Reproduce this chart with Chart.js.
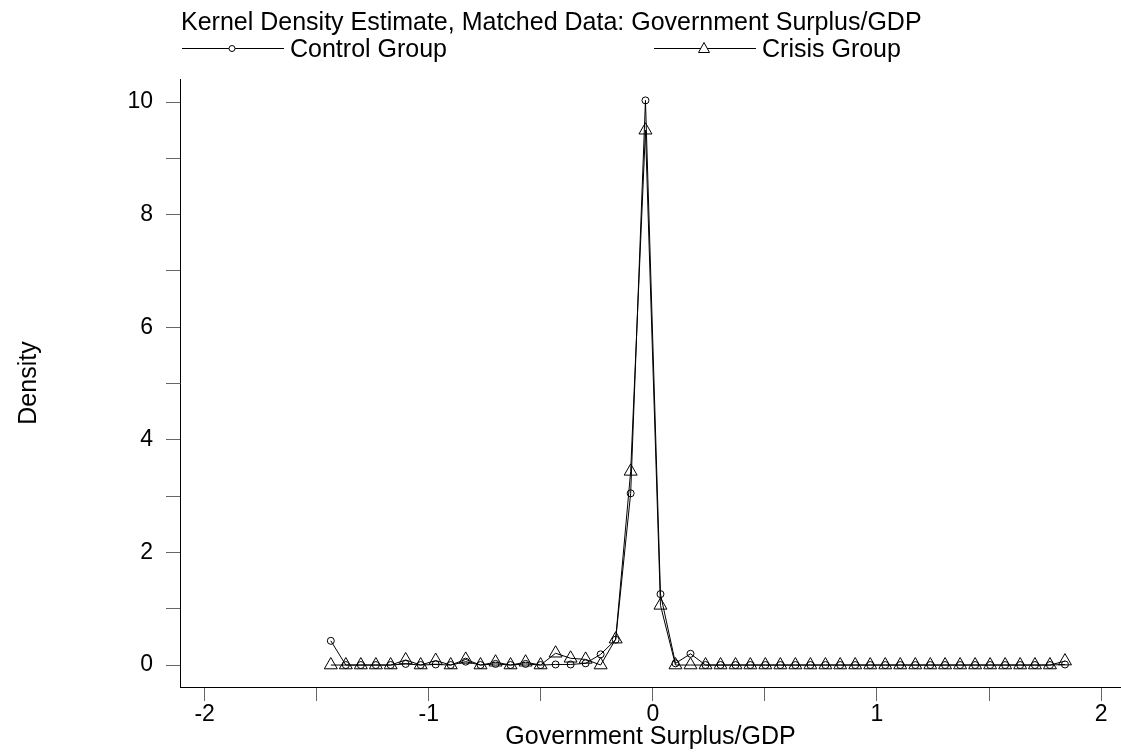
<!DOCTYPE html>
<html lang="en">
<head>
    <meta charset="UTF-8">
    <title>Kernel Density Estimate, Matched Data: Government Surplus/GDP</title>
    <style>
        body { margin: 0; background: #fff; overflow: hidden; }
        canvas { display: block; }
    </style>
</head>
<body>
<canvas id="kdChart" width="1121" height="755"></canvas>

<script src="https://cdn.jsdelivr.net/npm/chart.js"></script>
<script>
    // evaluation points (shared by both groups)
    const xPoints = [
        -1.437, -1.370, -1.303, -1.236, -1.170, -1.103, -1.036, -0.969, -0.902, -0.835,
        -0.769, -0.702, -0.635, -0.568, -0.501, -0.434, -0.367, -0.300, -0.233, -0.166,
        -0.099, -0.033, 0.034, 0.101, 0.168, 0.235, 0.302, 0.369, 0.435, 0.502,
        0.569, 0.636, 0.703, 0.770, 0.836, 0.903, 0.970, 1.037, 1.104, 1.171,
        1.238, 1.304, 1.371, 1.438, 1.505, 1.572, 1.639, 1.705, 1.772, 1.839
    ];

    const controlDensity = [
        0.43, 0, 0, 0, 0, 0.02, 0, 0.01, 0, 0.06,
        0, 0.02, 0, 0.02, 0, 0.01, 0.01, 0.03, 0.19, 0.45,
        3.05, 10.03, 1.26, 0.03, 0.2, 0, 0, 0, 0, 0,
        0, 0, 0, 0, 0, 0, 0, 0, 0, 0,
        0, 0, 0, 0, 0, 0, 0, 0, 0, 0.01
    ];

    const crisisDensity = [
        0, 0, 0, 0, 0, 0.09, 0, 0.08, 0, 0.1,
        0, 0.05, 0, 0.05, 0, 0.21, 0.12, 0.1, 0, 0.46,
        3.44, 9.5, 1.06, 0, 0, 0, 0, 0, 0, 0,
        0, 0, 0, 0, 0, 0, 0, 0, 0, 0,
        0, 0, 0, 0, 0, 0, 0, 0, 0, 0.07
    ];

    const seriesNames = ['Control Group', 'Crisis Group'];
    const chartTitle = 'Kernel Density Estimate, Matched Data: Government Surplus/GDP';
    const xTitle = 'Government Surplus/GDP';
    const yTitle = 'Density';

    const FONT = "'Liberation Sans', Arial, sans-serif";

    function toPoints(ys) {
        return xPoints.map((x, i) => ({ x: x, y: ys[i] }));
    }

    // title and the two-item legend above the plot
    const headerPlugin = {
        id: 'header',
        afterDraw(chart) {
            const ctx = chart.ctx;
            ctx.save();
            ctx.fillStyle = '#000';
            ctx.font = '25px ' + FONT;
            ctx.textBaseline = 'alphabetic';
            ctx.textAlign = 'left';
            ctx.fillText(chartTitle, 181, 30);

            ctx.strokeStyle = '#000';
            ctx.lineWidth = 1;
            const ky = 48.5;
            // control group key
            ctx.beginPath();
            ctx.moveTo(182, ky); ctx.lineTo(284, ky);
            ctx.stroke();
            ctx.fillStyle = '#fff';
            ctx.beginPath();
            ctx.arc(232, ky, 3, 0, Math.PI * 2);
            ctx.fill(); ctx.stroke();
            // crisis group key
            ctx.beginPath();
            ctx.moveTo(654, ky); ctx.lineTo(756, ky);
            ctx.stroke();
            ctx.beginPath();
            ctx.moveTo(704, ky - 6); ctx.lineTo(709.5, ky + 4); ctx.lineTo(698.5, ky + 4); ctx.closePath();
            ctx.fill(); ctx.stroke();

            ctx.fillStyle = '#000';
            ctx.fillText(seriesNames[0], 290, 57);
            ctx.fillText(seriesNames[1], 762, 57);
            ctx.restore();
        }
    };

    const ctx = document.getElementById('kdChart').getContext('2d');
    new Chart(ctx, {
        type: 'line',
        data: {
            datasets: [{
                label: seriesNames[0],
                data: toPoints(controlDensity),
                borderColor: '#000',
                borderWidth: 1,
                pointStyle: 'circle',
                pointRadius: 3.5,
                pointBorderWidth: 1,
                pointBorderColor: '#000',
                pointBackgroundColor: 'rgba(0,0,0,0)',
                tension: 0
            }, {
                label: seriesNames[1],
                data: toPoints(crisisDensity),
                borderColor: '#000',
                borderWidth: 1,
                pointStyle: 'triangle',
                pointRadius: 7.5,
                pointBorderWidth: 1,
                pointBorderColor: '#000',
                pointBackgroundColor: 'rgba(0,0,0,0)',
                tension: 0
            }]
        },
        options: {
            responsive: false,
            animation: false,
            devicePixelRatio: 1,
            layout: { autoPadding: false, padding: { top: 79, left: 0, right: 0, bottom: 0 } },
            plugins: {
                legend: { display: false },
                title: { display: false },
                tooltip: { enabled: false }
            },
            scales: {
                x: {
                    type: 'linear',
                    min: -2.11,
                    max: 2.089,
                    afterFit(scale) {
                        scale.height = 68;
                        scale.paddingLeft = 0;
                        scale.paddingRight = 0;
                    },
                    ticks: {
                        stepSize: 0.5,
                        includeBounds: false,
                        autoSkip: false,
                        maxRotation: 0,
                        color: '#000',
                        padding: 0,
                        font: { family: FONT, size: 23 },
                        callback: v => Number.isInteger(v) ? String(v) : ''
                    },
                    grid: { drawOnChartArea: false, tickLength: 14, tickColor: '#666' },
                    border: { color: '#000', width: 1 },
                    title: {
                        display: true,
                        text: xTitle,
                        color: '#000',
                        font: { family: FONT, size: 25 },
                        padding: { top: 0, bottom: 3 }
                    }
                },
                y: {
                    type: 'linear',
                    min: -0.39,
                    max: 10.41,
                    afterFit(scale) {
                        scale.width = 180;
                        scale.paddingTop = 0;
                        scale.paddingBottom = 0;
                    },
                    ticks: {
                        stepSize: 1,
                        includeBounds: false,
                        autoSkip: false,
                        color: '#000',
                        padding: 13,
                        font: { family: FONT, size: 23 },
                        callback: v => (Number.isInteger(v) && v % 2 === 0) ? String(v) : ''
                    },
                    grid: { drawOnChartArea: false, tickLength: 14, tickColor: '#666' },
                    border: { color: '#000', width: 1 },
                    title: {
                        display: true,
                        text: yTitle,
                        color: '#000',
                        font: { family: FONT, size: 25 },
                        padding: { top: 14, bottom: 0 }
                    }
                }
            }
        },
        plugins: [headerPlugin]
    });
</script>
</body>
</html>
